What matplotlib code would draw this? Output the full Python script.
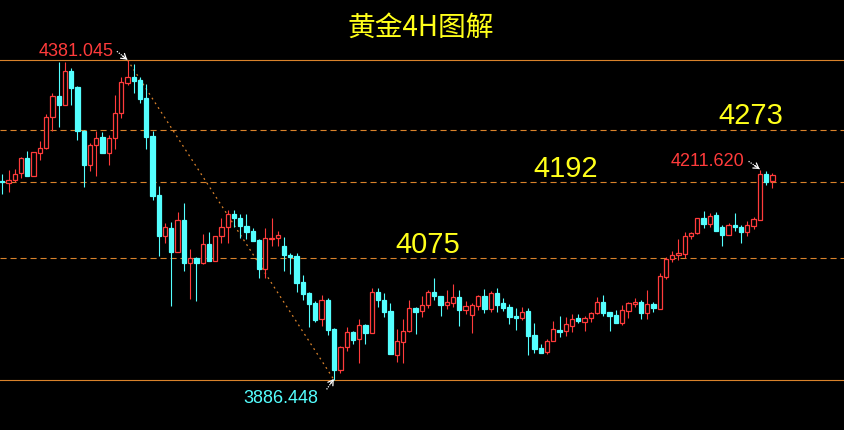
import numpy as np
import matplotlib.pyplot as plt

# =========================
# 1. Data (gold 4H candles)
# =========================
opens = [4193.3, 4190.5, 4196.0, 4206.9, 4229.6, 4202.2, 4237.8, 4244.6, 4292.5, 4324.9,
         4312.0, 4363.6, 4339.3, 4271.8, 4219.2, 4250.2, 4261.6, 4237.8, 4260.0, 4298.7,
         4346.0, 4354.8, 4350.1, 4322.3, 4263.6, 4172.4, 4109.0, 4121.4, 4084.8, 4133.8,
         4067.8, 4074.6, 4067.8, 4096.2, 4070.8, 4108.6, 4122.5, 4142.6, 4136.8, 4124.5,
         4116.7, 4102.8, 4058.5, 4105.0, 4105.5, 4093.6, 4079.2, 4078.1, 4037.9, 4021.0,
         4005.5, 3981.2, 4010.1, 3965.3, 3902.4, 3937.0, 3961.1, 3950.3, 3971.5, 3959.6,
         4022.0, 4010.1, 3993.1, 3925.6, 3945.6, 3961.7, 3997.3, 3993.6, 4002.4, 4022.0,
         4015.8, 4002.8, 4005.9, 4014.7, 3995.1, 3987.4, 4001.3, 4016.3, 3996.7, 4021.0,
         4005.5, 3999.3, 3985.4, 3982.3, 3993.1, 3956.0, 3935.9, 3929.7, 3946.3, 3963.7,
         3962.7, 3970.4, 3982.3, 3976.6, 3981.8, 3989.5, 4007.0, 3991.6, 3986.9, 3975.0,
         3993.6, 4003.9, 4007.0, 3990.0, 4003.9, 3996.7, 4046.1, 4073.0, 4079.7, 4081.7,
         4108.3, 4113.2, 4136.8, 4128.0, 4141.5, 4122.9, 4111.0, 4126.0, 4122.9, 4115.7,
         4124.9, 4134.2, 4204.9, 4193.6]
highs = [4204.9, 4211.0, 4212.6, 4231.6, 4240.4, 4239.5, 4256.3, 4297.1, 4329.6, 4378.0,
         4377.5, 4368.7, 4340.9, 4272.9, 4252.8, 4271.8, 4269.8, 4265.1, 4327.0, 4354.8,
         4381.045, 4374.9, 4354.8, 4343.5, 4270.8, 4185.8, 4129.1, 4130.2, 4146.1, 4160.0,
         4088.9, 4077.0, 4111.6, 4114.7, 4109.0, 4136.4, 4149.2, 4149.2, 4143.0, 4143.0,
         4120.9, 4104.4, 4120.9, 4136.8, 4116.7, 4107.5, 4082.7, 4082.7, 4048.3, 4022.5,
         4008.6, 4017.8, 4013.2, 3967.3, 3939.5, 3968.8, 3962.7, 3980.7, 3973.0, 4028.7,
         4028.7, 4021.0, 4005.5, 3965.3, 3980.7, 4010.1, 3999.7, 4016.3, 4025.6, 4044.1,
         4015.8, 4025.6, 4034.8, 4025.6, 4008.6, 4005.9, 4018.3, 4027.1, 4024.0, 4028.7,
         4013.2, 4003.9, 3997.7, 3999.3, 3997.7, 3974.6, 3942.1, 3949.8, 3977.7, 3985.4,
         3983.8, 3988.5, 3988.5, 3985.4, 3992.0, 4014.7, 4017.8, 3991.6, 3994.7, 4002.4,
         4007.0, 4013.2, 4010.1, 4025.6, 4007.0, 4051.8, 4076.1, 4085.8, 4104.4, 4115.2,
         4115.2, 4137.0, 4147.7, 4144.6, 4146.1, 4126.5, 4129.1, 4144.6, 4126.0, 4132.2,
         4138.4, 4211.62, 4209.5, 4206.4]
lows = [4173.9, 4177.5, 4192.5, 4198.2, 4201.0, 4201.5, 4226.5, 4244.0, 4271.8, 4278.0,
        4311.0, 4312.0, 4257.4, 4185.2, 4210.0, 4201.8, 4237.0, 4219.2, 4243.5, 4290.9,
        4342.9, 4330.5, 4315.1, 4244.0, 4165.1, 4078.6, 4098.7, 4001.3, 4084.0, 4055.4,
        4011.7, 4009.0, 4065.7, 4070.0, 4070.0, 4097.7, 4097.7, 4123.4, 4105.5, 4104.4,
        4101.0, 4044.1, 4043.6, 4094.0, 4094.0, 4054.9, 4050.8, 4022.5, 4010.6, 3968.8,
        3976.6, 3970.4, 3956.5, 3886.448, 3897.7, 3931.7, 3942.6, 3912.7, 3942.6, 3959.0,
        3999.7, 3984.3, 3926.0, 3914.7, 3913.2, 3961.0, 3958.0, 3984.3, 3998.2, 4010.1,
        3985.8, 3996.2, 3999.7, 3970.4, 3988.5, 3959.6, 3995.1, 3990.0, 3992.0, 3992.0,
        3993.6, 3973.5, 3964.2, 3979.7, 3925.6, 3928.7, 3928.5, 3927.1, 3946.0, 3953.4,
        3954.9, 3961.1, 3974.6, 3962.7, 3976.6, 3989.0, 3985.8, 3962.7, 3975.0, 3971.9,
        3982.3, 3999.3, 3980.7, 3980.7, 3991.6, 3996.0, 4042.6, 4069.3, 4071.9, 4074.6,
        4104.9, 4112.1, 4121.9, 4123.4, 4117.0, 4094.0, 4110.5, 4117.2, 4097.7, 4109.5,
        4120.3, 4134.0, 4188.3, 4183.7]
closes = [4192.0, 4195.6, 4204.9, 4229.6, 4202.2, 4238.4, 4244.6, 4292.5, 4324.9, 4312.0,
          4363.6, 4338.2, 4271.8, 4219.2, 4249.7, 4260.5, 4237.8, 4260.5, 4298.7, 4346.6,
          4354.3, 4349.1, 4321.2, 4262.5, 4170.9, 4109.0, 4122.9, 4084.8, 4133.8, 4067.8,
          4074.6, 4067.8, 4096.2, 4070.8, 4108.6, 4122.5, 4142.6, 4136.1, 4124.9, 4115.2,
          4101.8, 4058.5, 4105.5, 4105.8, 4110.6, 4080.1, 4077.0, 4036.8, 4019.4, 4003.9,
          3979.7, 4009.6, 3964.2, 3902.4, 3937.0, 3960.2, 3948.7, 3971.0, 3959.1, 4022.0,
          4010.1, 3992.0, 3926.6, 3946.7, 3961.7, 3997.3, 3992.0, 4002.4, 4022.0, 4016.8,
          4002.4, 4007.0, 4014.7, 3994.7, 4000.8, 4002.4, 4016.3, 3996.7, 4021.0, 4002.4,
          3997.7, 3984.3, 3982.3, 3991.6, 3954.9, 3934.8, 3928.7, 3946.7, 3965.3, 3961.1,
          3973.0, 3980.7, 3978.4, 3982.3, 3990.0, 4007.0, 3990.0, 3985.8, 3975.0, 3994.7,
          4005.5, 4007.0, 3990.0, 4003.9, 3997.7, 4047.2, 4073.5, 4079.7, 4082.7, 4109.0,
          4113.7, 4136.8, 4128.0, 4139.9, 4117.2, 4111.0, 4126.0, 4122.5, 4115.7, 4126.0,
          4135.3, 4204.9, 4193.0, 4203.3]

swing_high = 4381.045
swing_low = 3886.448
last_high = 4211.620
high_idx, low_idx, last_idx = 20, 53, 121
levels = [4273, 4192, 4075]

# =========================
# 2. Figure setup
# =========================
bg = 'black'
red = '#FF3B3B'
cyan = '#54FFFF'
orange = '#D9822B'
yellow = '#FFFF1A'

o = np.array(opens)
h = np.array(highs)
l = np.array(lows)
c = np.array(closes)
x = np.arange(len(o))
up = c >= o

fig = plt.figure(figsize=(8.45, 4.31), dpi=100, facecolor=bg)
ax = fig.add_axes([0, 0, 1, 1], facecolor=bg)
ax.set_xlim(-0.37, 134.6)
ax.set_ylim(3809.2, 4475.3)
ax.axis('off')

# =========================
# 3. Support / resistance lines
# =========================
ax.axhline(swing_high, color=orange, lw=0.8, zorder=1)
ax.axhline(swing_low, color=orange, lw=0.8, zorder=1)
for lv in levels:
    ax.axhline(lv, color=orange, lw=0.8, dashes=(5.5, 3.5), zorder=1)

# dotted trend line from swing high to swing low
ax.plot([high_idx, low_idx], [swing_high, swing_low], color=orange, lw=0.9,
        dashes=(1.5, 3), zorder=1)

# =========================
# 4. Candles
# =========================
w = 0.68
ax.vlines(x[up], l[up], h[up], color=red, lw=0.8, zorder=2)
ax.vlines(x[~up], l[~up], h[~up], color=cyan, lw=0.8, zorder=2)

body = np.maximum(np.abs(c - o), 1.2)
bottom = np.minimum(o, c)
ax.bar(x[up], body[up], w, bottom[up], facecolor=bg, edgecolor=red, lw=0.9, zorder=3)
ax.bar(x[~up], body[~up], w, bottom[~up], facecolor=cyan, edgecolor=cyan, lw=0.9, zorder=3)


# =========================
# 5. Labels
# =========================
def pointer(x0, y0, x1, y1):
    # dotted white shaft with a small solid head
    ax.plot([x0, x1], [y0, y1], color='white', lw=0.9, dashes=(1, 1), zorder=4)
    ax.annotate('', xy=(x1, y1), xytext=(x0 + (x1 - x0) * 0.55, y0 + (y1 - y0) * 0.55),
                arrowprops=dict(arrowstyle='->,head_length=0.35,head_width=0.22',
                                color='white', lw=0.9, shrinkA=0, shrinkB=0), zorder=4)


num_font = 'Liberation Sans'
ax.text(17.7, 4388.8, f'{swing_high:.3f}', color=red, fontsize=13, family=num_font,
        ha='right', va='baseline')
pointer(18.3, 4394.5, high_idx - 0.05, swing_high + 0.5)

ax.text(50.4, 3853.2, f'{swing_low:.3f}', color=cyan, fontsize=13, family=num_font,
        ha='right', va='baseline')
pointer(51.8, 3872.0, low_idx - 0.05, swing_low + 1.5)

ax.text(118.5, 4219.2, f'{last_high:.3f}', color=red, fontsize=13, family=num_font,
        ha='right', va='baseline')
pointer(119.2, 4224.5, last_idx - 0.05, last_high + 1)

for lv, xp, yb in zip(levels, [119.6, 90.0, 67.9], [4282.9, 4202.2, 4084.3]):
    ax.text(xp, yb, str(lv), color=yellow, fontsize=21, family=num_font,
            ha='center', va='baseline')

ax.text(66.9, 4432.1, '黄金4H图解', color=yellow, fontsize=20,
        family=['Noto Sans CJK SC', 'DejaVu Sans'], ha='center', va='center')

plt.savefig('out.png', dpi=100, facecolor=bg)
